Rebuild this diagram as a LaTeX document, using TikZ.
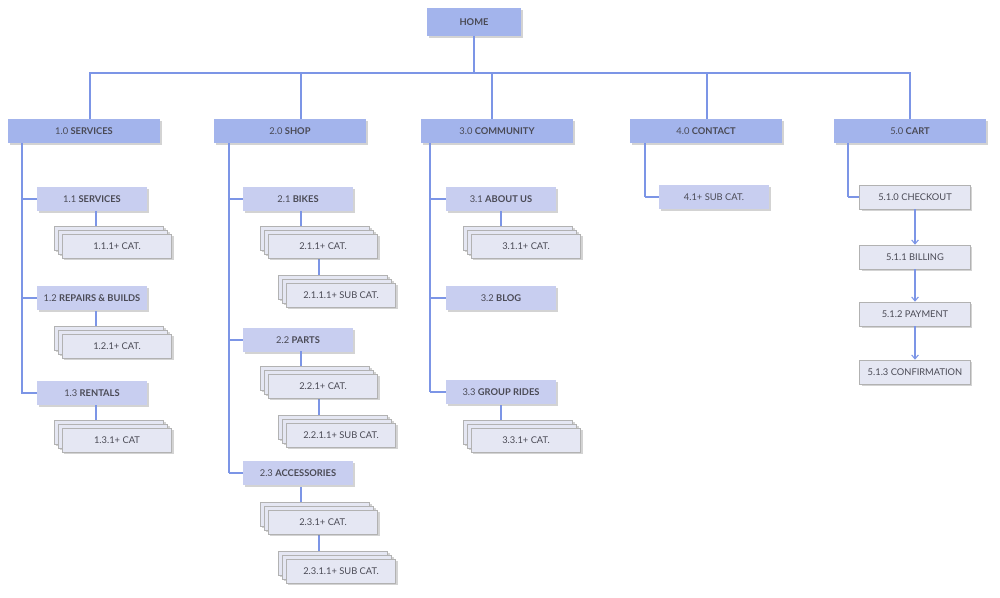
\documentclass[tikz,border=0pt]{standalone}
\usepackage{fontspec}
\setmainfont{Lato}
\usetikzlibrary{shadows,arrows.meta}
\definecolor{lone}{HTML}{A3B4EC}
\definecolor{ltwo}{HTML}{C8CEF0}
\definecolor{lthree}{HTML}{E5E7F3}
\definecolor{lnk}{HTML}{7C95E6}
\definecolor{txt}{HTML}{4A4A55}
\tikzset{
 base/.style={minimum height=18pt, inner sep=0pt, text=txt, font=\fontsize{7}{8}\selectfont, drop shadow={shadow xshift=1.5pt,shadow yshift=-1.5pt,opacity=0.35}},
 boxA/.style={base, fill=lone, minimum width=114pt},
 boxB/.style={base, fill=ltwo, minimum width=82pt},
 boxC/.style={base, fill=lthree, draw=gray!60, minimum width=82pt},
 boxD/.style={base, fill=lthree, draw=gray!60, minimum width=83pt},
 link/.style={draw=lnk, line width=0.8pt},
 arr/.style={link, -{Straight Barb[length=3pt,width=5pt]}}
}
\newcommand{\stack}[4]{% name, x, y, text
 \node[boxC] at (#2-8,#3-8) {};
 \node[boxC] at (#2-4,#3-4) {};
 \node[boxC] (#1) at (#2,#3) {#4};}
\begin{document}
\begin{tikzpicture}[x=0.75pt,y=-0.75pt]
\useasboundingbox (0,0) rectangle (1000,597);
% home
\node[base, fill=lone, minimum width=70pt, minimum height=21pt] (home) at (474,22) {\textbf{HOME}};
\coordinate (hb) at (474,73);
\draw[link] (home.south) -- (hb);
\draw[link] (90,120) -- (90,73) -- (910,73) -- (910,120);
\foreach \x in {301,492,707} \draw[link] (\x,73) -- (\x,120);
% level 1
\node[boxA] (s) at (84,131) {1.0 \textbf{SERVICES}};
\node[boxA] (sh) at (290,131) {2.0 \textbf{SHOP}};
\node[boxA] (c) at (497,131) {3.0 \textbf{COMMUNITY}};
\node[boxA] (ct) at (706,131) {4.0 \textbf{CONTACT}};
\node[boxA] (ca) at (910,131) {5.0 \textbf{CART}};
% spines
\draw[link] (22,143) -- (22,394);
\draw[link] (229,143) -- (229,473);
\draw[link] (430,143) -- (430,392);
\draw[link] (645,143) -- (645,197);
\draw[link] (848,143) -- (848,197);
% services
\foreach \y/\t in {199/{1.1 \textbf{SERVICES}},298/{1.2 \textbf{REPAIRS \& BUILDS}},393/{1.3 \textbf{RENTALS}}} {
 \draw[link] (22,\y) -- (38,\y);
 \node[boxB] at (92,\y) {\t};}
\foreach \y/\t in {246/{1.1.1+ CAT.},346/{1.2.1+ CAT.},440/{1.3.1+ CAT}} {
 \draw[link] (96,\y-35) -- (96,\y-12);
 \stack{x}{117}{\y}{\t}}
% shop
\foreach \y/\t in {199/{2.1 \textbf{BIKES}},340/{2.2 \textbf{PARTS}},473/{2.3 \textbf{ACCESSORIES}}} {
 \draw[link] (229,\y) -- (244,\y);
 \node[boxB] at (298,\y) {\t};}
\foreach \y/\t/\u in {246/{2.1.1+ CAT.}/{2.1.1.1+ SUB CAT.},386/{2.2.1+ CAT.}/{2.2.1.1+ SUB CAT.},522/{2.3.1+ CAT.}/{2.3.1.1+ SUB CAT.}} {
 \draw[link] (301,\y-35) -- (301,\y-12);
 \draw[link] (319,\y+12) -- (319,\y+37);
 \stack{x}{323}{\y}{\t}
 \stack{y}{341}{\y+49}{\u}}
% community
\foreach \y/\t in {199/{3.1 \textbf{ABOUT US}},298/{3.2 \textbf{BLOG}},392/{3.3 \textbf{GROUP RIDES}}} {
 \draw[link] (430,\y) -- (447,\y);
 \node[boxB] at (501,\y) {\t};}
\foreach \y/\t in {246/{3.1.1+ CAT.},440/{3.3.1+ CAT.}} {
 \draw[link] (501,\y-35) -- (501,\y-12);
 \stack{x}{526}{\y}{\t}}
% contact
\draw[link] (645,197) -- (659,197);
\node[boxB] (c41) at (714,197) {4.1+ SUB CAT.};
% cart
\draw[link] (848,197) -- (862,197);
\node[boxD] (k0) at (915,197) {5.1.0 CHECKOUT};
\node[boxD] (k1) at (915,257) {5.1.1 BILLING};
\node[boxD] (k2) at (915,314) {5.1.2 PAYMENT};
\node[boxD] (k3) at (915,372) {5.1.3 CONFIRMATION};
\draw[arr] (k0) -- (k1);
\draw[arr] (k1) -- (k2);
\draw[arr] (k2) -- (k3);
\end{tikzpicture}
\end{document}
